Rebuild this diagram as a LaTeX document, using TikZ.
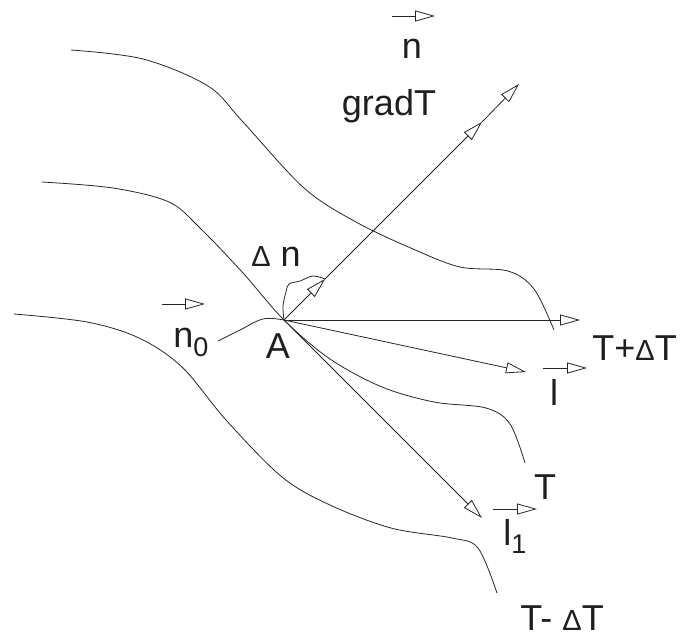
\documentclass[tikz,border=0pt]{standalone}
\usepackage{fontspec}
\setmainfont{Liberation Sans}
\usetikzlibrary{arrows.meta}

% subindices y delta pequenos
\newcommand{\bajo}[2][8pt]{\raisebox{-#1}{\fontsize{27}{27}\selectfont #2}}
\newcommand{\delt}{{\fontsize{29}{29}\selectfont Δ}}

\begin{document}
\begin{tikzpicture}[x=1pt, y=-1pt, line width=0.8pt, draw=black!85,
    flecha/.style={-{Triangle[open, length=20pt, width=11pt]}},
    etiqueta/.style={font=\fontsize{36}{40}\selectfont, inner sep=0pt, text=black!88}]
  \useasboundingbox (0,0) rectangle (681,638);

  % Punto A y extremos de los vectores
  \coordinate (A) at (284,320);
  \coordinate (dn) at (325,279);
  \coordinate (g1) at (482,122);
  \coordinate (g2) at (519,84);
  \coordinate (n0) at (218,341);
  \coordinate (l) at (526,372);
  \coordinate (l1) at (482,518);
  \coordinate (h) at (580,320);

  % Isotermas: T+dT, T, T-dT
  \draw plot[smooth, tension=0.55] coordinates {(71,50) (143,59) (208,86) (243,122)
    (304,188) (356,222) (413,249) (460,267) (508,271) (534,289) (554,330)};
  \draw plot[smooth, tension=0.55] coordinates {(42,182) (113,188) (169,202) (200,228)
    (243,273) (A) (330,359) (382,387) (434,402) (486,408) (510,424) (525,463)};
  \draw plot[smooth, tension=0.55] coordinates {(14,314) (87,322) (139,338) (182,367)
    (226,420) (282,477) (330,505) (391,528) (452,538) (478,548) (497,593)};

  % Curva n0 y arco de Delta n
  \draw plot[smooth, tension=0.6] coordinates {(n0) (240,330) (263,319) (A)};
  \draw plot[smooth, tension=0.6] coordinates {(A) (283,306) (286,292) (289,284)
    (300,281) (313,276) (dn)};

  % Vectores desde A
  \draw[flecha] (A) -- (dn);
  \draw[flecha] (dn) -- (g1);
  \draw[flecha] (g1) -- (g2);
  \draw[flecha] (A) -- (h);
  \draw[flecha] (A) -- (l);
  \draw[flecha] (A) -- (l1);

  % Etiquetas
  \node[etiqueta, anchor=base] (nlab) at (412,58) {n};
  \node[etiqueta, anchor=base] (gradlab) at (389,115) {gradT};
  \node[etiqueta, anchor=base] (dnlab) at (276,266) {\delt\ n};
  \node[etiqueta, anchor=base west] (n0lab) at (173,347) {n\bajo[9pt]{0}};
  \node[etiqueta, anchor=base] (Alab) at (278,358) {A};
  \node[etiqueta, anchor=base west] (Tplab) at (592,360) {T+\delt T};
  \node[etiqueta, anchor=base] (llab) at (554,405) {l};
  \node[etiqueta, anchor=base] (Tlab) at (545,499) {T};
  \node[etiqueta, anchor=base west] (l1lab) at (503,545) {l\bajo{1}};
  \node[etiqueta, anchor=base west] (Tmlab) at (520,630) {T-\ \delt T};

  % Flechitas de vector sobre las letras
  \draw[flecha] (392,16) -- (435,16);
  \draw[flecha] (162,304) -- (205,304);
  \draw[flecha] (543,368) -- (587,368);
  \draw[flecha] (493,509) -- (537,509);
\end{tikzpicture}
\end{document}
